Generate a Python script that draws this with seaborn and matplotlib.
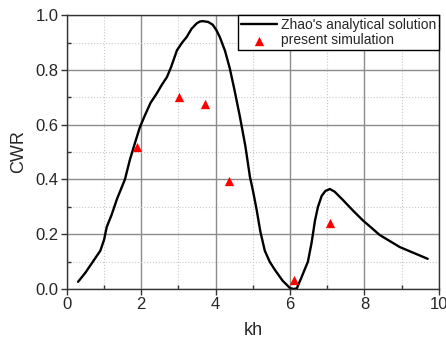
import matplotlib
matplotlib.use("Agg")
import matplotlib.pyplot as plt
from matplotlib.ticker import MultipleLocator, FormatStrFormatter
import seaborn as sns
import pandas as pd

# Zhao's analytical solution
kh_analytical = [0.30, 0.50, 0.70, 0.90, 1.00, 1.07, 1.20, 1.35, 1.56, 1.69, 1.80,
                 1.96, 2.10, 2.25, 2.42, 2.55, 2.69, 2.80, 2.96, 3.10, 3.22, 3.35,
                 3.49, 3.58, 3.66, 3.80, 3.92, 4.02, 4.11, 4.25, 4.38, 4.50, 4.65,
                 4.80, 4.92, 5.00, 5.10, 5.20, 5.32, 5.45, 5.59, 5.80, 6.00, 6.10,
                 6.18, 6.30, 6.48, 6.58, 6.67, 6.75, 6.85, 6.95, 7.07, 7.20, 7.42,
                 7.70, 7.96, 8.20, 8.41, 8.95, 9.70]
cwr_analytical = [0.026, 0.060, 0.100, 0.140, 0.180, 0.226, 0.270, 0.330, 0.400, 0.470,
                  0.520, 0.590, 0.635, 0.680, 0.715, 0.745, 0.774, 0.810, 0.872, 0.900,
                  0.920, 0.950, 0.970, 0.977, 0.978, 0.975, 0.965, 0.945, 0.920, 0.870,
                  0.805, 0.730, 0.630, 0.520, 0.410, 0.360, 0.290, 0.210, 0.140, 0.100,
                  0.070, 0.030, 0.003, 0.000, 0.002, 0.040, 0.100, 0.170, 0.250, 0.300,
                  0.340, 0.358, 0.365, 0.355, 0.325, 0.285, 0.250, 0.222, 0.197, 0.153,
                  0.110]

# present simulation
kh_sim = [1.89, 3.02, 3.72, 4.35, 6.10, 7.07]
cwr_sim = [0.517, 0.700, 0.674, 0.394, 0.034, 0.240]

df_line = pd.DataFrame({"kh": kh_analytical, "CWR": cwr_analytical})
df_sim = pd.DataFrame({"kh": kh_sim, "CWR": cwr_sim})

sns.set_style("white")
plt.rcParams["font.family"] = ["Liberation Sans", "DejaVu Sans"]

fig, ax = plt.subplots(figsize=(4.46, 3.44), dpi=100)
fig.subplots_adjust(left=0.150, right=0.984, top=0.956, bottom=0.160)

sns.lineplot(data=df_line, x="kh", y="CWR", ax=ax, color="black", lw=1.7,
             label="Zhao's analytical solution", sort=False)
sns.scatterplot(data=df_sim, x="kh", y="CWR", ax=ax, color="red", marker="^",
                s=45, edgecolor="red", linewidth=0, label="present simulation",
                zorder=5)

ax.set_xlim(0, 10)
ax.set_ylim(0, 1.0)
ax.xaxis.set_major_locator(MultipleLocator(2))
ax.xaxis.set_minor_locator(MultipleLocator(1))
ax.yaxis.set_major_locator(MultipleLocator(0.2))
ax.yaxis.set_minor_locator(MultipleLocator(0.1))
ax.yaxis.set_major_formatter(FormatStrFormatter("%.1f"))

ax.grid(which="major", color="#8c8c8c", lw=1.0, ls="-")
ax.grid(which="minor", color="#c8c8c8", lw=0.8, ls=":")
ax.set_axisbelow(True)

for sp in ax.spines.values():
    sp.set_color("#333333")
    sp.set_linewidth(1.0)

ax.tick_params(which="major", direction="out", length=4, width=1, labelsize=12,
               left=True, bottom=True, color="#333333", pad=2)
ax.tick_params(which="minor", direction="in", length=3, width=1,
               left=True, bottom=True, color="#333333")

ax.set_xlabel("kh", fontsize=13, labelpad=7)
ax.set_ylabel("CWR", fontsize=13, labelpad=6)

leg = ax.legend(loc="upper right", fontsize=10, frameon=True, fancybox=False,
                borderpad=0.2, labelspacing=0.1, handlelength=2.6,
                handletextpad=0.3, borderaxespad=0.0)
leg.get_frame().set_edgecolor("black")
leg.get_frame().set_linewidth(1.0)
leg.get_frame().set_alpha(1)

fig.savefig("out.png", dpi=100)
